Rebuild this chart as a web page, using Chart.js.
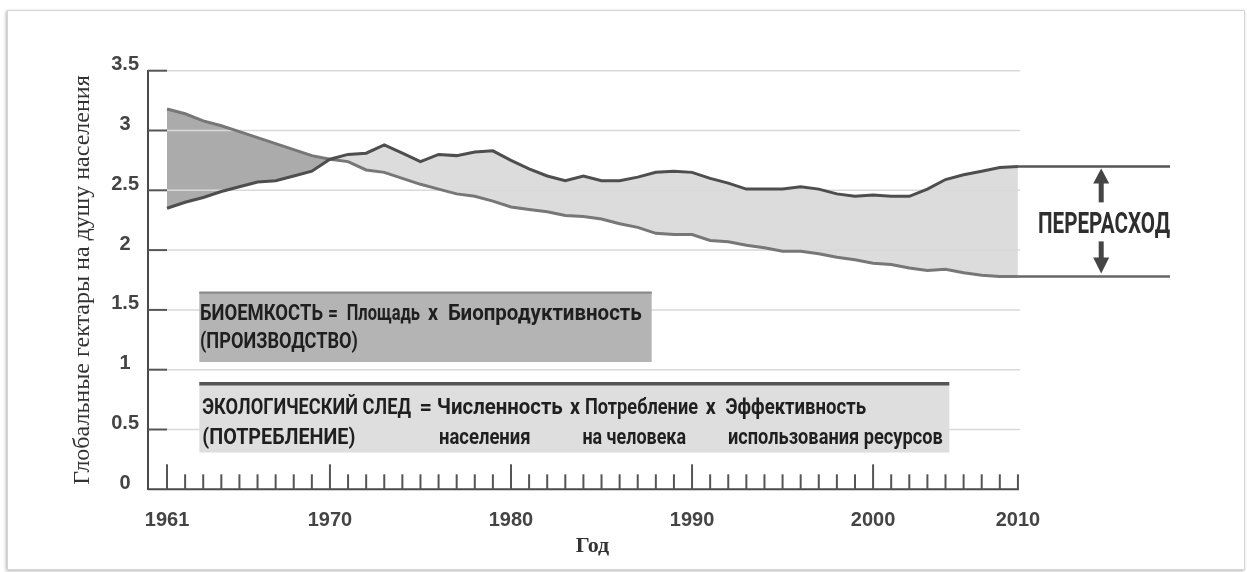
<!DOCTYPE html>
<html>
<head>
<meta charset="utf-8">
<script src="https://cdn.jsdelivr.net/npm/chart.js@4/dist/chart.umd.min.js"></script>
<style>
  html, body { margin: 0; padding: 0; background: #fff; }
  #frame { position: absolute; left: 7px; top: 10px; width: 1236px; height: 558px;
           border: 1px solid #d6d6d6; box-shadow: -1px 1px 3px rgba(0,0,0,0.30); }
  #wrap { position: absolute; left: 0; top: 0; width: 1247px; height: 572px; }
</style>
</head>
<body>
<div id="frame"></div>
<div id="wrap"><canvas id="c"></canvas></div>
<script>
// ---- data ----
const years = [1961,1962,1963,1964,1965,1966,1967,1968,1969,1970,
               1971,1972,1973,1974,1975,1976,1977,1978,1979,1980,
               1981,1982,1983,1984,1985,1986,1987,1988,1989,1990,
               1991,1992,1993,1994,1995,1996,1997,1998,1999,2000,
               2001,2002,2003,2004,2005,2006,2007,2008];
const footprint = [2.35,2.40,2.44,2.49,2.53,2.57,2.58,2.62,2.66,2.76,
                   2.80,2.81,2.88,2.81,2.74,2.80,2.79,2.82,2.83,2.75,
                   2.68,2.62,2.58,2.62,2.58,2.58,2.61,2.65,2.66,2.65,
                   2.60,2.56,2.51,2.51,2.51,2.53,2.51,2.47,2.45,2.46,
                   2.45,2.45,2.51,2.59,2.63,2.66,2.69,2.70];
const biocapacity = [3.18,3.14,3.08,3.04,2.99,2.94,2.89,2.84,2.79,2.76,
                     2.74,2.67,2.65,2.60,2.55,2.51,2.47,2.45,2.41,2.36,
                     2.34,2.32,2.29,2.28,2.26,2.22,2.19,2.14,2.13,2.13,
                     2.08,2.07,2.04,2.02,1.99,1.99,1.97,1.94,1.92,1.89,
                     1.88,1.85,1.83,1.84,1.81,1.79,1.78,1.78];
const yTickValues = [0,0.5,1,1.5,2,2.5,3,3.5];
const yTickLabels = ['0','0.5','1','1.5','2','2.5','3','3.5'];
const xTickValues = [1961,1970,1980,1990,2000,2008];
const xTickLabels = ['1961','1970','1980','1990','2000','2010'];
const yTitle = 'Глобальные гектары на душу населения';
const xTitle = 'Год';
const overshootLabel = 'ПЕРЕРАСХОД';
const overshootEndYear = 2016.4;
const arrowYear = 2012.6;
const bioBoxLines = [
  [['БИОЕМКОСТЬ',200,123],['=',328,10],['Площадь',346.7,73.3],['х',428,10],['Биопродуктивность',448,193.7]],
  [['(ПРОИЗВОДСТВО)',200,158]]
];
const footBoxLines = [
  [['ЭКОЛОГИЧЕСКИЙ СЛЕД',202.3,208.7],['=',419.5,12.5],['Численность',436.8,125.9],['х',570,10],
   ['Потребление',585,113],['х',705.8,10],['Эффективность',725.5,140.5]],
  [['(ПОТРЕБЛЕНИЕ)',202.3,153.1],['населения',439,91.6],['на человека',582.4,103.6],['использования ресурсов',728,214.7]]
];

// ---- helpers ----
function fitText(ctx, text, x, y, w) {
  const m = ctx.measureText(text).width;
  ctx.save();
  ctx.translate(x, y);
  ctx.scale(w / m, 1);
  ctx.fillText(text, 0, 0);
  ctx.restore();
}

const decor = {
  id: 'decor',
  beforeDatasetsDraw(chart) {
    const {ctx, scales: {x, y}} = chart;
    ctx.save();
    const gx0 = x.getPixelForValue(years[0]);
    const gx1 = x.getPixelForValue(years[years.length - 1]) + 2;
    ctx.strokeStyle = '#d9d9d9';
    ctx.lineWidth = 1.5;
    yTickValues.forEach(v => {
      if (v === 0) return;
      const py = y.getPixelForValue(v);
      ctx.beginPath(); ctx.moveTo(gx0, py); ctx.lineTo(gx1, py); ctx.stroke();
    });
    ctx.restore();
  },
  afterDatasetsDraw(chart) {
    const {ctx, scales: {x, y}, chartArea} = chart;
    ctx.save();
    ctx.strokeStyle = '#555';
    ctx.lineWidth = 2;
    const gx0 = x.getPixelForValue(years[0]);
    yTickValues.forEach(v => {
      if (v === 0) return;
      const py = y.getPixelForValue(v);
      ctx.beginPath(); ctx.moveTo(chartArea.left, py); ctx.lineTo(gx0, py); ctx.stroke();
    });
    const by = y.getPixelForValue(0);
    const xEnd = x.getPixelForValue(years[years.length - 1]);
    ctx.strokeStyle = '#4a4a4a';
    ctx.beginPath(); ctx.moveTo(chartArea.left, by); ctx.lineTo(xEnd + 1, by); ctx.stroke();
    ctx.strokeStyle = '#555';
    years.forEach(yr => {
      const px = x.getPixelForValue(yr);
      const tall = (yr === years[0] || yr % 10 === 0);
      ctx.beginPath(); ctx.moveTo(px, by); ctx.lineTo(px, by - (tall ? 25 : 15)); ctx.stroke();
    });

    // legend boxes
    ctx.fillStyle = '#b4b4b4';
    ctx.fillRect(199.3, 292, 452.4, 70);
    ctx.fillStyle = '#8a8a8a';
    ctx.fillRect(199.3, 291.5, 452.4, 2.2);
    ctx.fillStyle = '#dedede';
    ctx.fillRect(199.3, 383, 750, 69.5);
    ctx.fillStyle = '#555';
    ctx.fillRect(199.3, 382, 750, 3.5);

    ctx.fillStyle = '#1f1f1f';
    ctx.font = 'bold 22px Roboto';
    ctx.textBaseline = 'middle';
    ctx.textAlign = 'left';
    const drawLines = (lines, y0, dy) => {
      lines.forEach((line, li) => line.forEach(([t, px, w]) => fitText(ctx, t, px, y0 + li * dy, w)));
    };
    drawLines(bioBoxLines, 314, 28);
    drawLines(footBoxLines, 408, 30);

    // overshoot arrows + label
    const cx = x.getPixelForValue(arrowYear);
    const top = y.getPixelForValue(footprint[footprint.length - 1]);
    const bot = y.getPixelForValue(biocapacity[biocapacity.length - 1]);
    ctx.fillStyle = '#454545';
    ctx.beginPath();
    ctx.moveTo(cx, top + 2); ctx.lineTo(cx + 8, top + 17); ctx.lineTo(cx - 8, top + 17); ctx.closePath(); ctx.fill();
    ctx.fillRect(cx - 2.5, top + 16, 5, 20);
    ctx.beginPath();
    ctx.moveTo(cx, bot - 3); ctx.lineTo(cx + 8, bot - 19); ctx.lineTo(cx - 8, bot - 19); ctx.closePath(); ctx.fill();
    ctx.fillRect(cx - 2.5, bot - 35, 5, 17);
    ctx.fillStyle = '#2e2e2e';
    ctx.font = 'bold 30px Roboto';
    fitText(ctx, overshootLabel, 1038, (top + bot) / 2 + 4, 132);

    // x title
    ctx.fillStyle = '#333';
    ctx.font = 'bold 22px "Liberation Serif"';
    ctx.textAlign = 'center';
    ctx.textBaseline = 'alphabetic';
    ctx.fillText(xTitle, (gx0 + xEnd) / 2, 552);
    ctx.restore();
  }
};

const ctx = document.getElementById('c').getContext('2d');
new Chart(ctx, {
  type: 'line',
  data: {
    datasets: [
      {
        label: 'Экологический след',
        data: years.map((yr, i) => ({x: yr, y: footprint[i]})),
        borderColor: '#4e4e4e', borderWidth: 3, pointRadius: 0, tension: 0,
        fill: {target: 1, above: '#dcdcdc', below: '#ababab'}
      },
      {
        label: 'Биоемкость',
        data: years.map((yr, i) => ({x: yr, y: biocapacity[i]})),
        borderColor: '#777', borderWidth: 3, pointRadius: 0, tension: 0, fill: false
      },
      {
        label: 'top',
        data: [{x: years[years.length - 1], y: footprint[footprint.length - 1]},
               {x: overshootEndYear, y: footprint[footprint.length - 1]}],
        borderColor: '#555', borderWidth: 2.5, pointRadius: 0, fill: false
      },
      {
        label: 'bottom',
        data: [{x: years[years.length - 1], y: biocapacity[biocapacity.length - 1]},
               {x: overshootEndYear, y: biocapacity[biocapacity.length - 1]}],
        borderColor: '#666', borderWidth: 2.5, pointRadius: 0, fill: false
      }
    ]
  },
  options: {
    responsive: true,
    maintainAspectRatio: false,
    animation: false,
    layout: {padding: {left: 0, top: 70.7, right: 77, bottom: 0}},
    plugins: {
      legend: {display: false},
      tooltip: {enabled: false},
      filler: {drawTime: 'beforeDatasetsDraw'}
    },
    scales: {
      x: {
        type: 'linear',
        min: 1959.95, max: overshootEndYear,
        grid: {display: false, drawTicks: false},
        border: {display: false},
        afterBuildTicks: s => { s.ticks = xTickValues.map(v => ({value: v})); },
        afterFit: s => { s.height = 82.7; },
        ticks: {
          autoSkip: false, maxRotation: 0, padding: 18.7,
          color: '#444',
          font: {family: '"Liberation Sans", Arial', size: 20, weight: 'bold'},
          callback: v => xTickLabels[xTickValues.indexOf(v)]
        }
      },
      y: {
        min: 0, max: 3.5,
        grid: {display: false, drawTicks: false},
        border: {display: true, color: '#4a4a4a', width: 2},
        afterBuildTicks: s => { s.ticks = yTickValues.map(v => ({value: v})); },
        afterFit: s => { s.width = 148; },
        ticks: {
          padding: 9, crossAlign: 'center', labelOffset: -6,
          color: '#444',
          font: {family: '"Liberation Sans", Arial', size: 20, weight: 'bold'},
          callback: v => yTickLabels[yTickValues.indexOf(v)]
        },
        title: {
          display: true, text: yTitle, color: '#333',
          font: {family: '"Liberation Serif"', size: 24},
          padding: {top: 68.4, bottom: 0}
        }
      }
    }
  },
  plugins: [decor]
});
</script>
</body>
</html>
